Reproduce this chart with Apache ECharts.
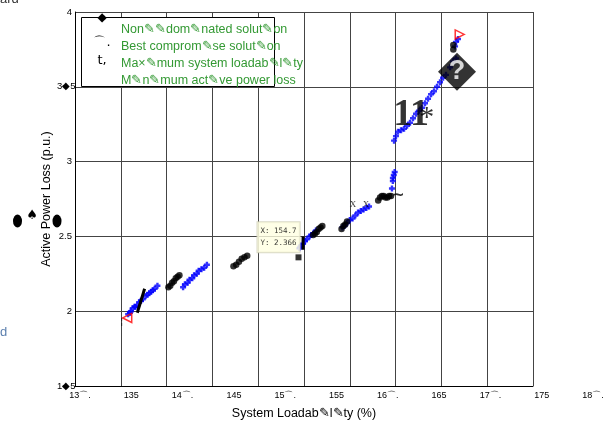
<!DOCTYPE html>
<html><head><meta charset="utf-8">
<script src="https://cdn.jsdelivr.net/npm/echarts@6/dist/echarts.min.js"></script>
<style>html,body{margin:0;padding:0;background:#fff}#c{width:615px;height:422px}</style>
</head><body><div id="c"></div>
<script>
// ---------- data ----------
const xTickLabels = ['13⌒.', '135', '14⌒.', '145', '15⌒.', '155', '16⌒.', '165', '17⌒.', '175', '18⌒.'];
const yTickLabels = ['1◆5', '2', '2.5', '3', '3◆5', '4'];
const legendNames = ['Non✎✎dom✎nated solut✎on', 'Best comprom✎se solut✎on', 'Ma×✎mum system loadab✎l✎ty', 'M✎n✎mum act✎ve power loss'];
const xAxisName = 'System Loadab✎l✎ty (%)';
const yAxisName = 'Active Power Loss (p.u.)';

const nonDominated = [
  [135.8,1.98],[136.0,1.99],[136.1,2.00],[136.3,2.02],[136.5,2.03],[136.6,2.03],[136.8,2.04],[137.0,2.06],
  [137.2,2.07],[137.4,2.08],[137.7,2.10],[137.9,2.11],[138.1,2.12],[138.3,2.13],[138.5,2.14],[138.7,2.15],[139.0,2.17],
  [141.8,2.16],[142.0,2.18],[142.3,2.19],[142.5,2.21],[142.8,2.22],[143.0,2.24],[143.3,2.25],[143.5,2.27],
  [143.8,2.28],[144.1,2.29],[144.4,2.31],
  [154.5,2.42],[154.6,2.43],[154.7,2.44],[154.9,2.45],[155.1,2.47],[155.3,2.48],[155.6,2.50],[155.8,2.51],
  [156.0,2.52],[156.3,2.54],
  [159.2,2.56],[159.4,2.57],[159.7,2.59],[160.0,2.61],[160.3,2.62],[160.6,2.64],[160.9,2.66],[161.2,2.67],
  [161.5,2.68],[161.8,2.69],[162.1,2.70],
  [164.6,2.82],[164.7,2.87],[164.7,2.89],[164.8,2.91],[164.9,2.93],
  [164.83,3.14],[165.04,3.17],[165.26,3.20],[165.59,3.21],[165.92,3.22],[166.25,3.24],[166.57,3.26],[166.9,3.29],
  [167.23,3.32],[167.55,3.34],[167.88,3.36],[168.21,3.39],[168.54,3.42],[168.87,3.45],[169.19,3.47],[169.52,3.50],
  [169.85,3.53],[170.18,3.56],[170.5,3.58],[170.94,3.63],[171.27,3.67],[171.6,3.69],
  [171.49,3.77],[171.6,3.80],[171.81,3.82]
];
const dominated = [
  [140.2,2.16],[140.4,2.17],[140.6,2.19],[140.8,2.20],[141.0,2.22],[141.2,2.23],[141.4,2.24],
  [147.3,2.30],[147.6,2.31],[147.9,2.33],[148.2,2.35],[148.5,2.36],[148.8,2.37],
  [156.0,2.51],[156.2,2.52],[156.4,2.53],[156.6,2.55],[156.8,2.56],[157.0,2.57],
  [159.1,2.55],[159.3,2.57],[159.5,2.58],[159.7,2.60],
  [163.1,2.74],[163.3,2.76],[163.5,2.77],[163.7,2.77],[163.9,2.76],[164.1,2.76],[164.3,2.77],[164.5,2.77],
  [171.3,3.78],[171.3,3.75]
];
const bestCompromise = [[171.7, 3.60]];
const maxLoadability = [[172.0, 3.85]];
const minLoss = [[135.7, 1.955]];
const dataTipPoint = [[154.4, 2.36]];
const dataTipText = ['X: 154.7', 'Y: 2.366'];
const strokeSlash = [[136.8, 1.99], [137.6, 2.15]];
const strokeBar = [[154.9, 2.41], [154.9, 2.50]];
const glyphTexts = ['11', '*', '~', 'X', 'X', '¦'];
const glyphPoints = [[166.7, 3.31], [168.4, 3.29], [165.3, 2.77], [160.35, 2.71], [161.77, 2.71], [135.1, 1.93]];

// ---------- styles ----------
const glyphStyles = [
  {fontSize: 38, fontFamily: 'Liberation Serif', fontWeight: 'bold'},
  {fontSize: 30, fontFamily: 'Liberation Serif'},
  {fontSize: 15, fontFamily: 'DejaVu Sans', fontWeight: 'bold'},
  {fontSize: 9, fontFamily: 'Liberation Serif'},
  {fontSize: 9, fontFamily: 'Liberation Serif'},
  {fontSize: 9, fontFamily: 'DejaVu Sans'}
];
const SANS = 'Liberation Sans';
const GREEN = '#339933';
const plusPath = 'path://M3,0H7V3H10V7H7V10H3V7H0V3H3Z';

const chart = echarts.init(document.getElementById('c'), null, {renderer: 'canvas'});
const option = {
  animation: false,
  backgroundColor: '#fff',
  grid: [
    {left: 75, top: 12, width: 458, height: 374, outerBoundsMode: 'none', containLabel: false},
    {left: 80, top: 12, width: 513, height: 374, outerBoundsMode: 'none', containLabel: false}
  ],
  xAxis: [
    {gridIndex: 0, type: 'value', min: 130, max: 180, interval: 5,
     axisLine: {show: true, onZero: false, lineStyle: {color: '#000', width: 1}},
     axisTick: {show: false}, axisLabel: {show: false},
     splitLine: {show: true, lineStyle: {color: '#444', width: 1}},
     name: xAxisName, nameLocation: 'middle', nameGap: 21, nameMoveOverlap: false,
     nameTextStyle: {fontFamily: SANS, fontSize: 12.5, color: '#000'}},
    {gridIndex: 1, type: 'value', min: 130, max: 180, interval: 5,
     axisLine: {show: false}, axisTick: {show: false}, splitLine: {show: false},
     axisLabel: {show: true, interval: 0, margin: 5, fontFamily: SANS, fontSize: 9, color: '#000',
       formatter: v => xTickLabels[Math.round((v - 130) / 5)]}}
  ],
  yAxis: [
    {gridIndex: 0, type: 'value', min: 1.5, max: 4, interval: 0.5,
     axisLine: {show: true, onZero: false, lineStyle: {color: '#000', width: 1}},
     axisTick: {show: false},
     splitLine: {show: true, lineStyle: {color: '#444', width: 1}},
     axisLabel: {show: true, align: 'left', margin: 18, fontFamily: SANS, fontSize: 9.5, color: '#000',
       formatter: v => {
         const s = yTickLabels[Math.round((v - 1.5) / 0.5)];
         return s.indexOf('◆') >= 0 ? '{g|' + s + '}' : '{n|' + s + '}';
       },
       rich: {
         n: {width: 15, align: 'right', fontFamily: SANS, fontSize: 9.5, color: '#000'},
         g: {fontFamily: SANS, fontSize: 9.5, color: '#000'}
       }},
     name: yAxisName, nameLocation: 'middle', nameGap: 22, nameMoveOverlap: false,
     nameTextStyle: {fontFamily: SANS, fontSize: 12.5, color: '#000'}},
    {gridIndex: 1, type: 'value', min: 1.5, max: 4, show: false}
  ],
  legend: {
    data: legendNames, orient: 'vertical', left: 115, top: 23, padding: 0,
    itemWidth: 0, itemHeight: 0, itemGap: 4, selectedMode: false, z: 6,
    textStyle: {color: GREEN, fontFamily: SANS, fontSize: 12.5}
  },
  series: [
    {name: legendNames[0], type: 'scatter', data: nonDominated, symbol: plusPath, symbolSize: 6,
     itemStyle: {color: '#0000ff'}, silent: true, z: 2},
    {name: 'Dominated', type: 'scatter', data: dominated, symbol: 'circle', symbolSize: 6.5,
     itemStyle: {color: '#000'}, silent: true, z: 3},
    {name: 'stroke1', type: 'line', data: strokeSlash, symbol: 'none', lineStyle: {color: '#000', width: 3}, silent: true, z: 3},
    {name: 'stroke2', type: 'line', data: strokeBar, symbol: 'none', lineStyle: {color: '#000', width: 3}, silent: true, z: 3},
    {name: legendNames[2], type: 'scatter', data: maxLoadability, symbol: 'triangle', symbolSize: 9, symbolRotate: -90,
     itemStyle: {color: 'rgba(255,255,255,0)', borderColor: '#ff0000', borderWidth: 1.5}, silent: true, z: 4},
    {name: legendNames[3], type: 'scatter', data: minLoss, symbol: 'triangle', symbolSize: 9, symbolRotate: 90,
     itemStyle: {color: 'rgba(255,255,255,0)', borderColor: '#ff0000', borderWidth: 1.5}, silent: true, z: 4},
    {name: legendNames[1], type: 'scatter', data: bestCompromise, symbol: 'diamond', symbolSize: 38,
     itemStyle: {color: '#000'}, silent: true, z: 5,
     label: {show: true, position: 'inside', formatter: '?', color: '#fff', fontSize: 27, fontWeight: 'bold', fontFamily: SANS}},
    {name: 'glyphs', type: 'scatter', symbolSize: 1, itemStyle: {color: 'rgba(0,0,0,0)'}, silent: true, z: 6,
     data: glyphPoints.map((p, i) => ({value: p, label: Object.assign({show: true, position: 'inside', color: '#000', formatter: glyphTexts[i]}, glyphStyles[i])}))},
    {name: 'datatip', type: 'scatter', data: dataTipPoint, symbol: 'rect', symbolSize: 6,
     itemStyle: {color: '#000'}, silent: true, z: 7,
     label: {show: true, position: [-38, -32], formatter: dataTipText.join('\n'), color: '#000',
       fontFamily: 'DejaVu Sans Mono', fontSize: 7.5, lineHeight: 12,
       backgroundColor: '#ffffe1', borderColor: '#cfcfb8', borderWidth: 1, padding: [3, 3, 3, 3]}}
  ],
  graphic: [
    {type: 'rect', shape: {x: 81.5, y: 17.5, width: 193, height: 69}, style: {fill: '#fff', stroke: '#000', lineWidth: 1}, z: 3, silent: true},
    {type: 'text', x: 102, y: 18, style: {text: '◆', fill: '#000', font: '12px "DejaVu Sans"', align: 'center', verticalAlign: 'middle', textAlign: 'center', textVerticalAlign: 'middle'}, z: 7},
    {type: 'text', x: 102, y: 43, style: {text: '⌒.', fill: '#000', font: '13px "DejaVu Sans"', align: 'center', verticalAlign: 'middle', textAlign: 'center', textVerticalAlign: 'middle'}, z: 7},
    {type: 'text', x: 102, y: 61, style: {text: 't,', fill: '#000', font: '13px "DejaVu Sans"', align: 'center', verticalAlign: 'middle', textAlign: 'center', textVerticalAlign: 'middle'}, z: 7},
    {type: 'circle', x: 17.5, y: 221, scaleY: 1.45, shape: {cx: 0, cy: 0, r: 4.5}, style: {fill: '#000'}, z: 7},
    {type: 'circle', x: 57, y: 221, scaleY: 1.45, shape: {cx: 0, cy: 0, r: 4.5}, style: {fill: '#000'}, z: 7},
    {type: 'text', x: 32, y: 216, style: {text: '♠', fill: '#000', font: '13px "DejaVu Sans"', align: 'center', verticalAlign: 'middle', textAlign: 'center', textVerticalAlign: 'middle'}, z: 7},
    {type: 'text', x: 0, y: -7, style: {text: 'ard', fill: '#333', font: '13px "Liberation Sans"'}, z: 7},
    {type: 'text', x: 0, y: 326, style: {text: 'd', fill: '#5b7fae', font: '13px "Liberation Sans"'}, z: 7}
  ]
};
chart.setOption(option);
</script>
</body></html>
